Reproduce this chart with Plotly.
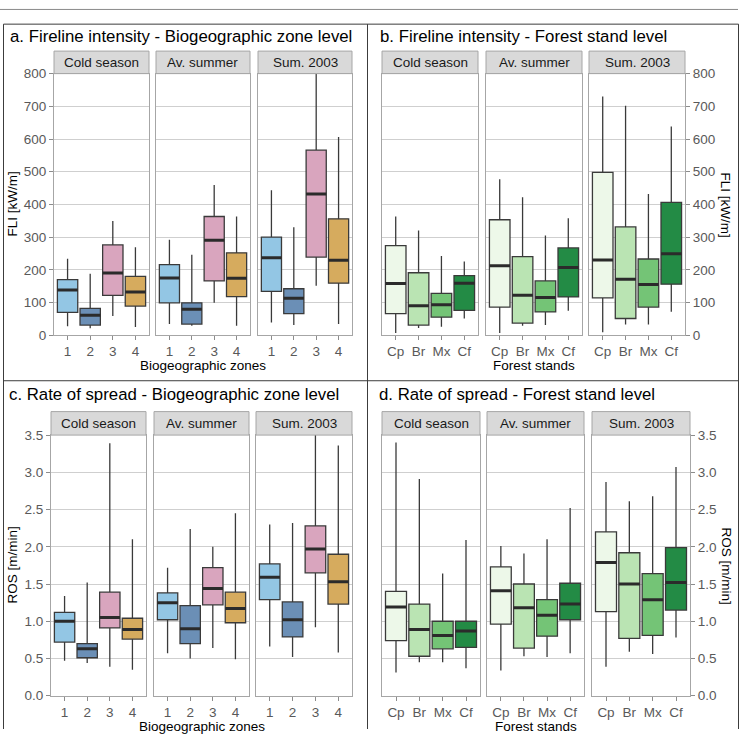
import plotly.graph_objects as go

W, H = 741, 737
FONT = "Liberation Sans, Arial, sans-serif"

seasons = ["Cold season", "Av. summer", "Sum. 2003"]
zone_labels = ["1", "2", "3", "4"]
stand_labels = ["Cp", "Br", "Mx", "Cf"]
zone_colors = ["#93c6e4", "#6b8fb6", "#d9a5be", "#d6ab5e"]
stand_colors = ["#edf8e9", "#bae4b3", "#74c476", "#238b45"]

# ---- FLI, biogeographic zone level (rows = seasons, cols = zones) ----
fli_zone_lo = [[27, 21, 59, 25], [34, 29, 99, 29], [39, 31, 151, 34]]
fli_zone_q1 = [[70, 31, 122, 89], [99, 34, 166, 118], [134, 66, 239, 159]]
fli_zone_med = [[138, 61, 190, 132], [175, 79, 290, 174], [237, 113, 432, 229]]
fli_zone_q3 = [[170, 82, 276, 180], [216, 99, 363, 252], [300, 142, 566, 356]]
fli_zone_hi = [[234, 188, 349, 269], [292, 246, 459, 363], [443, 330, 800, 606]]

# ---- FLI, forest stand level ----
fli_stand_lo = [[7, 22, 26, 51], [7, 29, 31, 75], [9, 33, 33, 72]]
fli_stand_q1 = [[66, 31, 55, 76], [86, 37, 71, 117], [114, 51, 86, 156]]
fli_stand_med = [[158, 90, 93, 159], [212, 122, 115, 207], [230, 171, 155, 249]]
fli_stand_q3 = [[274, 191, 128, 182], [353, 240, 166, 267], [498, 331, 233, 406]]
fli_stand_hi = [[363, 320, 242, 225], [477, 422, 305, 358], [730, 702, 432, 638]]

# ---- ROS, biogeographic zone level ----
ros_zone_lo = [[0.47, 0.44, 0.39, 0.35], [0.57, 0.50, 0.64, 0.49], [0.66, 0.52, 0.92, 0.58]]
ros_zone_q1 = [[0.72, 0.51, 0.91, 0.76], [1.02, 0.70, 1.22, 0.98], [1.29, 0.79, 1.65, 1.23]]
ros_zone_med = [[1.00, 0.63, 1.05, 0.89], [1.25, 0.90, 1.44, 1.17], [1.59, 1.02, 1.97, 1.53]]
ros_zone_q3 = [[1.12, 0.70, 1.39, 1.04], [1.38, 1.21, 1.72, 1.39], [1.77, 1.26, 2.28, 1.90]]
ros_zone_hi = [[1.34, 1.52, 3.39, 2.10], [1.72, 2.24, 2.00, 2.45], [2.30, 2.32, 3.50, 3.36]]

# ---- ROS, forest stand level ----
ros_stand_lo = [[0.31, 0.45, 0.45, 0.37], [0.34, 0.53, 0.52, 0.57], [0.39, 0.59, 0.56, 0.78]]
ros_stand_q1 = [[0.74, 0.53, 0.63, 0.65], [0.96, 0.64, 0.80, 1.02], [1.13, 0.77, 0.81, 1.15]]
ros_stand_med = [[1.19, 0.89, 0.81, 0.87], [1.41, 1.18, 1.08, 1.23], [1.79, 1.50, 1.29, 1.52]]
ros_stand_q3 = [[1.40, 1.23, 1.00, 1.00], [1.73, 1.50, 1.29, 1.51], [2.20, 1.92, 1.64, 1.99]]
ros_stand_hi = [[3.40, 2.91, 1.64, 2.09], [2.01, 1.91, 2.10, 2.52], [2.87, 2.61, 2.68, 3.07]]

fli_ticks = [0, 100, 200, 300, 400, 500, 600, 700, 800]
ros_ticks = [0.0, 0.5, 1.0, 1.5, 2.0, 2.5, 3.0, 3.5]


def fx(x):
    return x / W


def fy(y):
    return 1 - y / H


panels = [
    dict(title="a. Fireline intensity - Biogeographic zone level", tx=8, ty=30,
         facets=[(54, 149), (156, 250), (258, 352)], py=(68, 335), strip=(45, 68),
         data=(fli_zone_lo, fli_zone_q1, fli_zone_med, fli_zone_q3, fli_zone_hi),
         labels=zone_labels, colors=zone_colors, yr=[0, 800], ticks=fli_ticks, fmt="d",
         side="left", ytitle="FLI [kW/m]", ytx=12, xtitle="Biogeographic zones", xty=366),
    dict(title="b. Fireline intensity - Forest stand level", tx=378, ty=30,
         facets=[(382, 478), (486, 582), (589, 685)], py=(68, 335), strip=(45, 68),
         data=(fli_stand_lo, fli_stand_q1, fli_stand_med, fli_stand_q3, fli_stand_hi),
         labels=stand_labels, colors=stand_colors, yr=[0, 800], ticks=fli_ticks, fmt="d",
         side="right", ytitle="FLI [kW/m]", ytx=726, xtitle="Forest stands", xty=366),
    dict(title="c. Rate of spread - Biogeographic zone level", tx=7, ty=396,
         facets=[(51, 146), (154, 249), (256, 352)], py=(437, 703), strip=(413, 437),
         data=(ros_zone_lo, ros_zone_q1, ros_zone_med, ros_zone_q3, ros_zone_hi),
         labels=zone_labels, colors=zone_colors, yr=[0, 3.5], ticks=ros_ticks, fmt=".1f",
         side="left", ytitle="ROS [m/min]", ytx=12, xtitle="Biogeographic zones", xty=734),
    dict(title="d. Rate of spread - Forest stand level", tx=377, ty=396,
         facets=[(382, 480), (487, 584), (592, 690)], py=(437, 703), strip=(413, 437),
         data=(ros_stand_lo, ros_stand_q1, ros_stand_med, ros_stand_q3, ros_stand_hi),
         labels=stand_labels, colors=stand_colors, yr=[0, 3.5], ticks=ros_ticks, fmt=".1f",
         side="right", ytitle="ROS [m/min]", ytx=727, xtitle="Forest stands", xty=734),
]

fig = go.Figure()
layout = dict(width=W, height=H, margin=dict(l=0, r=0, t=0, b=0),
              paper_bgcolor="white", plot_bgcolor="white", showlegend=False,
              font=dict(family=FONT, size=13.5, color="#4d4d4d"))
shapes, annotations = [], []
BW = 0.9
ax_i = 0
for p in panels:
    lo, q1, med, q3, hi = p["data"]
    for s, (x0, x1) in enumerate(p["facets"]):
        ax_i += 1
        sfx = "" if ax_i == 1 else str(ax_i)
        xa, ya = "x" + sfx, "y" + sfx
        first = s == 0
        last = s == 2
        show_y = (p["side"] == "left" and first) or (p["side"] == "right" and last)
        layout["xaxis" + sfx] = dict(
            domain=[fx(x0), fx(x1)], anchor=ya, range=[-0.6, 3.6],
            tickvals=list(range(len(p["labels"]))), ticktext=p["labels"],
            ticks="outside", ticklen=4, tickcolor="#8c8c8c", showgrid=False,
            showline=True, mirror=True, linecolor="#a6a6a6", linewidth=1,
            zeroline=False, fixedrange=True,
            tickfont=dict(size=13.5, color="#595959", family=FONT))
        layout["yaxis" + sfx] = dict(
            domain=[fy(p["py"][1]), fy(p["py"][0])], anchor=xa, range=p["yr"],
            tickvals=p["ticks"], tickformat=p["fmt"], side=p["side"],
            showticklabels=show_y, ticks="outside" if show_y else "", ticklen=4,
            tickcolor="#8c8c8c", showgrid=True, gridcolor="#cfcfcf", gridwidth=1.2,
            showline=True, mirror=True, linecolor="#a6a6a6", linewidth=1,
            zeroline=False, fixedrange=True,
            tickfont=dict(size=13.5, color="#595959", family=FONT))
        for k in range(len(p["labels"])):
            fig.add_trace(go.Box(
                x=[k], q1=[q1[s][k]], median=[med[s][k]], q3=[q3[s][k]],
                lowerfence=[lo[s][k]], upperfence=[hi[s][k]],
                width=BW, whiskerwidth=0, fillcolor=p["colors"][k],
                line=dict(color="#3a3a3a", width=1.3), boxpoints=False,
                xaxis=xa, yaxis=ya, hoverinfo="skip"))
            fig.add_trace(go.Scatter(
                x=[k - BW / 2, k + BW / 2], y=[med[s][k], med[s][k]], mode="lines",
                line=dict(color="#2b2b2b", width=3), xaxis=xa, yaxis=ya,
                hoverinfo="skip"))
        # strip
        shapes.append(dict(type="rect", xref="paper", yref="paper",
                           x0=fx(x0), x1=fx(x1), y0=fy(p["strip"][1]), y1=fy(p["strip"][0]),
                           fillcolor="#d9d9d9", line=dict(color="#a6a6a6", width=1)))
        annotations.append(dict(text=seasons[s], xref="paper", yref="paper",
                                x=fx((x0 + x1) / 2), y=fy((p["strip"][0] + p["strip"][1]) / 2),
                                showarrow=False, xanchor="center", yanchor="middle",
                                font=dict(size=13.5, color="#1a1a1a", family=FONT)))
    annotations.append(dict(text=p["title"], xref="paper", yref="paper",
                            x=fx(p["tx"]), y=fy(p["ty"]), showarrow=False,
                            xanchor="left", yanchor="middle",
                            font=dict(size=16.8, color="black", family=FONT)))
    fx0 = p["facets"][0][0]
    fx1 = p["facets"][-1][1]
    annotations.append(dict(text=p["xtitle"], xref="paper", yref="paper",
                            x=fx((fx0 + fx1) / 2), y=fy(p["xty"]), showarrow=False,
                            xanchor="center", yanchor="middle",
                            font=dict(size=13.5, color="black", family=FONT)))
    annotations.append(dict(text=p["ytitle"], xref="paper", yref="paper",
                            x=fx(p["ytx"]), y=fy((p["py"][0] + p["py"][1]) / 2),
                            showarrow=False, xanchor="center", yanchor="middle",
                            textangle=-90 if p["side"] == "left" else 90,
                            font=dict(size=13.5, color="black", family=FONT)))

# outer frame
frame_col = "#3c3c3c"
def hline(y, x0, x1, col=frame_col):
    shapes.append(dict(type="line", xref="paper", yref="paper", x0=fx(x0), x1=fx(x1),
                       y0=fy(y), y1=fy(y), line=dict(color=col, width=1)))
def vline(x, y0, y1, col=frame_col):
    shapes.append(dict(type="line", xref="paper", yref="paper", x0=fx(x), x1=fx(x),
                       y0=fy(y0), y1=fy(y1), line=dict(color=col, width=1)))

hline(2.5, 0, 738, "#8a8a8a")
hline(17.5, 3.5, 738.5)
hline(381.5, 3.5, 738.5)
vline(3.5, 17.5, 737)
vline(738.5, 17.5, 737)
vline(367.5, 17.5, 737)

layout["shapes"] = shapes
layout["annotations"] = annotations
fig.update_layout(**layout)
fig.write_html("out.html")
